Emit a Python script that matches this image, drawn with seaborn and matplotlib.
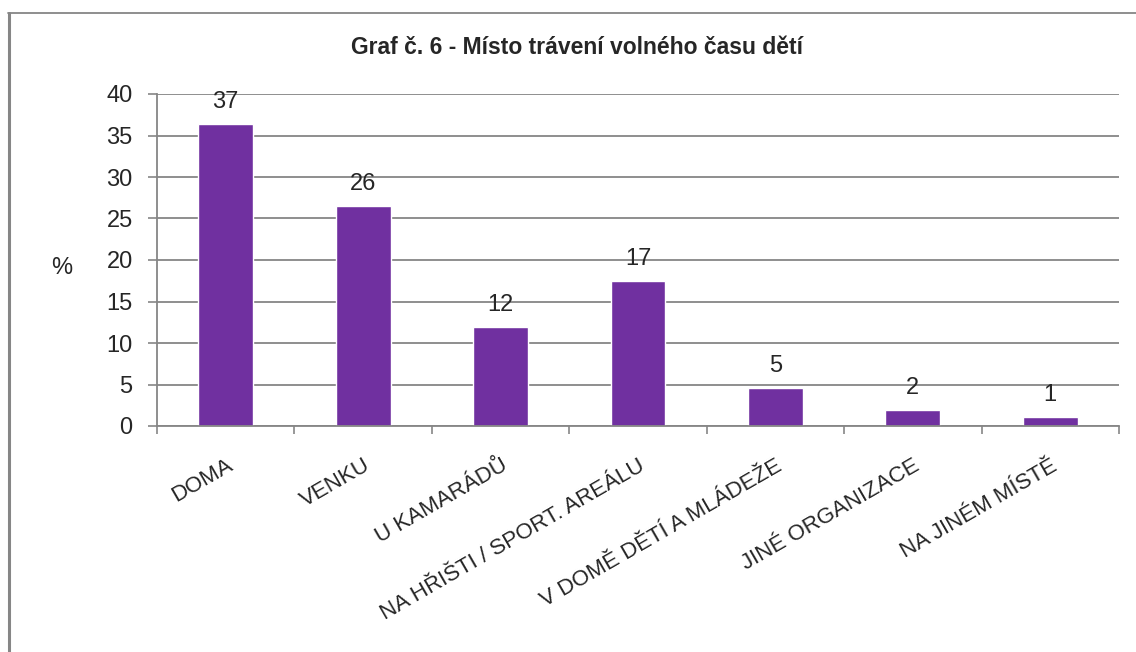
import matplotlib
matplotlib.use("Agg")
import matplotlib.pyplot as plt
from matplotlib.lines import Line2D
import pandas as pd
import seaborn as sns

# data
categories = ["DOMA", "VENKU", "U KAMARÁDŮ", "NA HŘIŠTI / SPORT. AREÁLU",
              "V DOMĚ DĚTÍ A MLÁDEŽE", "JINÉ ORGANIZACE", "NA JINÉM MÍSTĚ"]
percent = [36.4, 26.5, 11.9, 17.5, 4.6, 1.9, 1.1]
value_labels = ["37", "26", "12", "17", "5", "2", "1"]
yticks = [0, 5, 10, 15, 20, 25, 30, 35, 40]

df = pd.DataFrame({"misto": categories, "procent": percent})

sns.set_style("white")
plt.rcParams["font.family"] = ["Liberation Sans", "DejaVu Sans"]

grey = "#868686"
fig = plt.figure(figsize=(11.36, 6.52), dpi=100)
ax = fig.add_axes([157 / 1136, 1 - 426 / 652, 962 / 1136, 332 / 652])

sns.barplot(data=df, x="misto", y="procent", color="#7030A0", width=0.4,
            saturation=1, ax=ax)

ax.set_xlim(-0.5, len(categories) - 0.5)
ax.set_ylim(0, 40)
ax.set_yticks(yticks)
ax.set_yticklabels([str(t) for t in yticks], fontsize=17)
ax.yaxis.grid(True, color=grey, lw=1.3)
ax.set_axisbelow(True)
ax.tick_params(axis="y", length=6.5, width=1.2, color=grey, pad=11, left=True)

# category ticks at the boundaries, labels centred under bars
ax.set_xticks(range(len(categories)))
ax.set_xticklabels(categories, fontsize=16, rotation=30, ha="right",
                   rotation_mode="anchor", va="top")
ax.tick_params(axis="x", which="major", length=0, pad=21)
ax.set_xticks([i - 0.5 for i in range(len(categories) + 1)], minor=True)
ax.tick_params(axis="x", which="minor", length=6, width=1.2, color=grey,
               bottom=True)

for side in ["top", "right"]:
    ax.spines[side].set_visible(False)
for side in ["left", "bottom"]:
    ax.spines[side].set_color(grey)
    ax.spines[side].set_linewidth(1.3)

ax.bar_label(ax.containers[0], labels=value_labels, padding=8, fontsize=17)

ax.set_xlabel("")
ax.set_ylabel("%", rotation=0, fontsize=17, ha="center", va="center")
ax.yaxis.set_label_coords((62 - 157) / 962, (426 - 268) / 332)

fig.text(577 / 1136, 1 - 47 / 652, "Graf č. 6 - Místo trávení volného času dětí",
         ha="center", va="center", fontsize=16.5, fontweight="bold")

# outer frame (top and left only, as in the reference)
fig.add_artist(Line2D([8 / 1136, 1], [1 - 13 / 652, 1 - 13 / 652],
                      transform=fig.transFigure, color=grey, lw=1.3))
fig.add_artist(Line2D([8.5 / 1136, 8.5 / 1136], [0, 1 - 13 / 652],
                      transform=fig.transFigure, color=grey, lw=2.2))

fig.savefig("out.png", dpi=100)
